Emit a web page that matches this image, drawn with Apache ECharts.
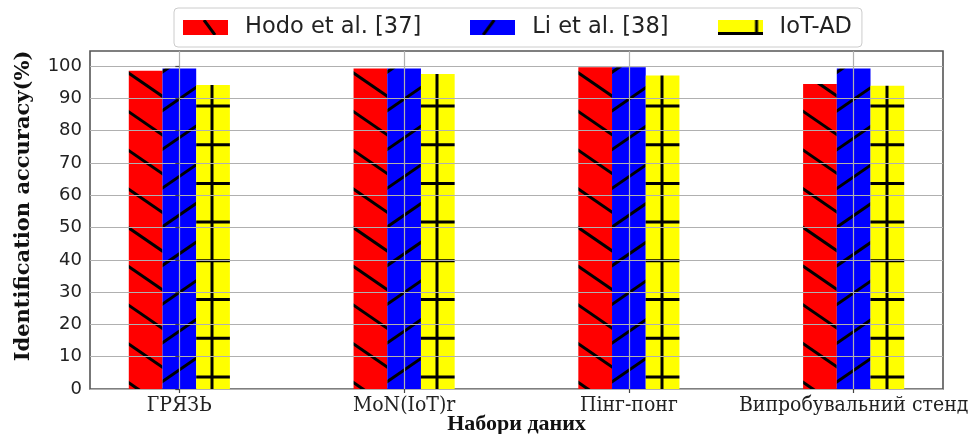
<!DOCTYPE html>
<html>
<head>
<meta charset="utf-8">
<script src="https://cdn.jsdelivr.net/npm/echarts@6/dist/echarts.min.js"></script>
<style>
  html, body { margin: 0; padding: 0; background: #fff; }
  #chart { width: 970px; height: 434px; }
</style>
</head>
<body>
<div id="chart"></div>
<script>
// Datasets on the x axis
const categories = ['ГРЯЗЬ', 'MoN(IoT)r', 'Пінг-понг', 'Випробувальний стенд'];
// Identification accuracy (%) per method
const hodoValues = [98.6, 99.3, 99.7, 94.5];
const liValues = [99.3, 99.3, 99.7, 99.3];
const iotAdValues = [94.2, 97.6, 97.1, 93.9];
const seriesNames = ['Hodo et al. [37]', 'Li et al. [38]', 'IoT-AD'];
const yTicks = [0, 10, 20, 30, 40, 50, 60, 70, 80, 90, 100];
const xTicks = [0, 1, 2, 3];

// Hatch geometry (pixels): one cell is PX wide and PY tall
const PX = 56.25, PY = 38.7;
const SLOPE = PY / PX;

// Tile that repeats cleanly: 4 cells across, 10 cells down
function hatchCanvas(fill, draw) {
  const c = document.createElement('canvas');
  c.width = 225; c.height = 387;
  const g = c.getContext('2d');
  g.fillStyle = fill;
  g.fillRect(0, 0, c.width, c.height);
  g.strokeStyle = '#000';
  g.lineWidth = 3;
  g.lineCap = 'butt';
  draw(g, c.width, c.height);
  return c;
}

function diagonal(g, x0, y0, dir) {
  for (let k = -30; k <= 30; k++) {
    g.beginPath();
    const xa = -10, xb = 235;
    g.moveTo(xa, y0 + dir * SLOPE * (xa - x0) + k * PY);
    g.lineTo(xb, y0 + dir * SLOPE * (xb - x0) + k * PY);
    g.stroke();
  }
}

const redHatch = hatchCanvas('#ff0000', g => diagonal(g, 129, 73.3, 1));
const blueHatch = hatchCanvas('#0000ff', g => diagonal(g, 163.3, 110, -1));
const yellowHatch = hatchCanvas('#ffff00', (g, w, h) => {
  for (let x = 43.25; x < w; x += PX) {
    g.beginPath(); g.moveTo(x, 0); g.lineTo(x, h); g.stroke();
  }
  for (let y = 28.6 - PY; y < h + PY; y += PY) {
    g.beginPath(); g.moveTo(0, y); g.lineTo(w, y); g.stroke();
  }
});

// Legend swatches
function swatch(fill, draw) {
  const c = document.createElement('canvas');
  c.width = 45; c.height = 15;
  const g = c.getContext('2d');
  g.fillStyle = fill;
  g.fillRect(0, 0, 45, 15);
  g.strokeStyle = '#000';
  g.lineWidth = 3;
  draw(g);
  return 'image://' + c.toDataURL();
}
const redIcon = swatch('#ff0000', g => { g.beginPath(); g.moveTo(21, 0); g.lineTo(32, 15); g.stroke(); });
const blueIcon = swatch('#0000ff', g => { g.beginPath(); g.moveTo(13, 15); g.lineTo(24, 0); g.stroke(); });
const yellowIcon = swatch('#ffff00', g => {
  g.beginPath(); g.moveTo(0, 13.5); g.lineTo(45, 13.5); g.stroke();
  g.beginPath(); g.moveTo(39, 0); g.lineTo(39, 15); g.stroke();
});

const pattern = c => ({ image: c, repeat: 'repeat' });
const toPoints = arr => arr.map((v, i) => [i, v]);

const chart = echarts.init(document.getElementById('chart'), null, { renderer: 'canvas' });

const barCommon = {
  type: 'bar',
  barWidth: 33.7,
  barGap: '0%',
  animation: false,
  emphasis: { disabled: true }
};

chart.setOption({
  animation: false,
  backgroundColor: '#fff',
  grid: {
    left: 90, right: 27, top: 51, bottom: 45,
    outerBoundsMode: 'none',
    containLabel: false,
    show: true, borderColor: '#555', borderWidth: 1.6, backgroundColor: 'transparent'
  },
  legend: {
    left: 174, top: 8,
    padding: [8, 10, 8, 9],
    itemGap: 49,
    itemWidth: 45, itemHeight: 15,
    borderColor: '#cccccc', borderWidth: 1, borderRadius: 4,
    backgroundColor: '#fff',
    textStyle: { fontFamily: 'DejaVu Sans', fontSize: 22.5, color: '#222', padding: [0, 0, 0, 12] },
    data: [
      { name: seriesNames[0], icon: redIcon },
      { name: seriesNames[1], icon: blueIcon },
      { name: seriesNames[2], icon: yellowIcon }
    ]
  },
  xAxis: {
    type: 'value',
    min: -0.3975, max: 3.3975,
    z: 3,
    axisLine: { show: false },
    axisTick: { show: true, customValues: xTicks, length: 4, lineStyle: { color: '#444', width: 1.2 } },
    axisLabel: {
      customValues: xTicks,
      formatter: v => categories[Math.round(v)] || '',
      fontFamily: "'DejaVu Serif Condensed', 'DejaVu Serif'", fontSize: 21, color: '#222', margin: 6
    },
    splitLine: { show: true, lineStyle: { color: '#b0b0b0', width: 1.2 } },
    name: 'Набори даних',
    nameLocation: 'middle',
    nameMoveOverlap: false,
    nameGap: 24,
    nameTextStyle: { fontFamily: 'Liberation Serif', fontWeight: 'bold', fontSize: 22, color: '#111' }
  },
  yAxis: {
    type: 'value',
    min: 0, max: 104.7,
    z: 3,
    axisLine: { show: false },
    axisTick: { show: true, customValues: yTicks, length: 4, lineStyle: { color: '#444', width: 1.2 } },
    axisLabel: {
      customValues: yTicks,
      fontFamily: 'DejaVu Sans', fontSize: 18, color: '#222', margin: 8
    },
    splitLine: { show: true, lineStyle: { color: '#b0b0b0', width: 1.2 } },
    name: 'Identification accuracy(%)',
    nameLocation: 'middle',
    nameMoveOverlap: false,
    nameRotate: 90,
    nameGap: 56,
    nameTextStyle: { fontFamily: 'DejaVu Serif', fontWeight: 'bold', fontSize: 21, color: '#111', padding: [0, 0, 0, 28] }
  },
  series: [
    Object.assign({ name: seriesNames[0], data: toPoints(hodoValues), itemStyle: { color: pattern(redHatch) } }, barCommon),
    Object.assign({ name: seriesNames[1], data: toPoints(liValues), itemStyle: { color: pattern(blueHatch) } }, barCommon),
    Object.assign({ name: seriesNames[2], data: toPoints(iotAdValues), itemStyle: { color: pattern(yellowHatch) } }, barCommon)
  ]
});
</script>
</body>
</html>
